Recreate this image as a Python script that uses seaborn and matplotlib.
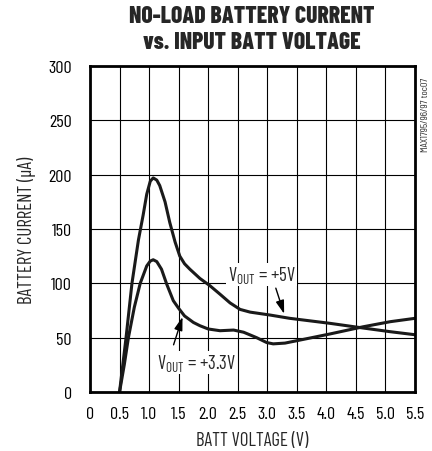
import matplotlib
matplotlib.use("Agg")
import matplotlib.pyplot as plt
import seaborn as sns
import pandas as pd

# ---- data ----
v5_voltage = [0.5, 0.61, 0.71, 0.82, 0.9, 0.96, 1.02, 1.07, 1.13, 1.18, 1.27, 1.35, 1.44, 1.52, 1.6, 1.69, 1.86, 2.03, 2.2, 2.37, 2.54, 2.71, 3.05, 3.38, 3.72, 4.06, 4.62, 5.08, 5.5]
v5_current = [0, 50, 100, 140, 163, 182, 194, 197, 195, 190, 175, 156, 138, 125, 118, 113, 104.5, 97.8, 90, 82, 76, 73.5, 70.8, 67.8, 65.5, 63.2, 58.9, 55.5, 52.7]
v33_voltage = [0.5, 0.58, 0.65, 0.75, 0.85, 0.96, 1.02, 1.07, 1.13, 1.21, 1.3, 1.41, 1.5, 1.6, 1.75, 1.86, 2.0, 2.2, 2.43, 2.6, 2.82, 2.99, 3.1, 3.3, 3.5, 4.06, 4.62, 5.08, 5.5]
v33_current = [0, 25, 50, 78, 100, 116, 120.5, 121.7, 120, 113, 99, 84, 77, 70, 64, 61, 58, 56.4, 57, 55, 50, 45.5, 44.3, 45, 47.2, 53.4, 60, 64.7, 67.8]
x_ticks = [0, 0.5, 1.0, 1.5, 2.0, 2.5, 3.0, 3.5, 4.0, 4.5, 5.0, 5.5]
x_tick_labels = ["0", "0.5", "1.0", "1.5", "2.0", "2.5", "3.0", "3.5", "4.0", "4.5", "5.0", "5.5"]
y_ticks = [0, 50, 100, 150, 200, 250, 300]

sns.set_style("white")
fam = "Barlow Condensed"
plt.rcParams["font.family"] = [fam, "Archivo Narrow", "DejaVu Sans"]
plt.rcParams["mathtext.fontset"] = "custom"
plt.rcParams["mathtext.rm"] = fam
plt.rcParams["mathtext.it"] = fam

df = pd.concat([
    pd.DataFrame({"v": v5_voltage, "i": v5_current, "s": "5V"}),
    pd.DataFrame({"v": v33_voltage, "i": v33_current, "s": "3.3V"}),
])

fig = plt.figure(figsize=(4.32, 4.52), dpi=100)
ax = fig.add_axes([90/432, 1-393/452, 325/432, 326/452])

ax.set_xlim(0, 5.5)
ax.set_ylim(0, 300)
ax.set_xticks(x_ticks)
ax.set_xticklabels(x_tick_labels)
ax.set_yticks(y_ticks)
ax.grid(True, color="black", linewidth=0.8)
ax.set_axisbelow(True)
for sp in ax.spines.values():
    sp.set_color("black")
    sp.set_linewidth(2.0)
ax.tick_params(axis="x", length=0, labelsize=13, colors="black", pad=10)
ax.tick_params(axis="y", length=0, labelsize=13, colors="black", pad=13)

sns.lineplot(data=df, x="v", y="i", units="s", estimator=None, sort=False,
             color="#1a1a1a", linewidth=2.2, ax=ax, legend=False)

ax.set_xlabel("BATT VOLTAGE (V)", fontsize=13.5, labelpad=7)
ax.set_ylabel("BATTERY CURRENT (µA)", fontsize=13.5, labelpad=9)

bbox = dict(facecolor="white", edgecolor="none", pad=1.0)
ax.text(2.33, 108, r"V$_{\mathrm{OUT}}$ = +5V", fontsize=13.5, ha="left", va="center", bbox=bbox, zorder=5)
ax.annotate("", xy=(3.3, 69.5), xytext=(3.13, 98),
            arrowprops=dict(arrowstyle="-|>,head_width=0.25,head_length=0.8", color="black", lw=1.0), zorder=6)
ax.text(1.13, 27, r"V$_{\mathrm{OUT}}$ = +3.3V", fontsize=13.5, ha="left", va="center", bbox=bbox, zorder=5)
ax.annotate("", xy=(1.58, 71.5), xytext=(1.4, 41),
            arrowprops=dict(arrowstyle="-|>,head_width=0.25,head_length=0.8", color="black", lw=1.0), zorder=6)

fig.text(252/432, 1-30/452, "NO-LOAD BATTERY CURRENT\nvs. INPUT BATT VOLTAGE",
         ha="center", va="center", fontsize=17, fontweight="heavy", linespacing=1.2,
         family=["Barlow Condensed", "Archivo Narrow", "DejaVu Sans"])
fig.text(425/432, 1-115/452, "MAX1795/96/97 toc07", rotation=90, ha="center", va="center",
         fontsize=7.5, color="#333333")

fig.savefig("out.png", dpi=100)
